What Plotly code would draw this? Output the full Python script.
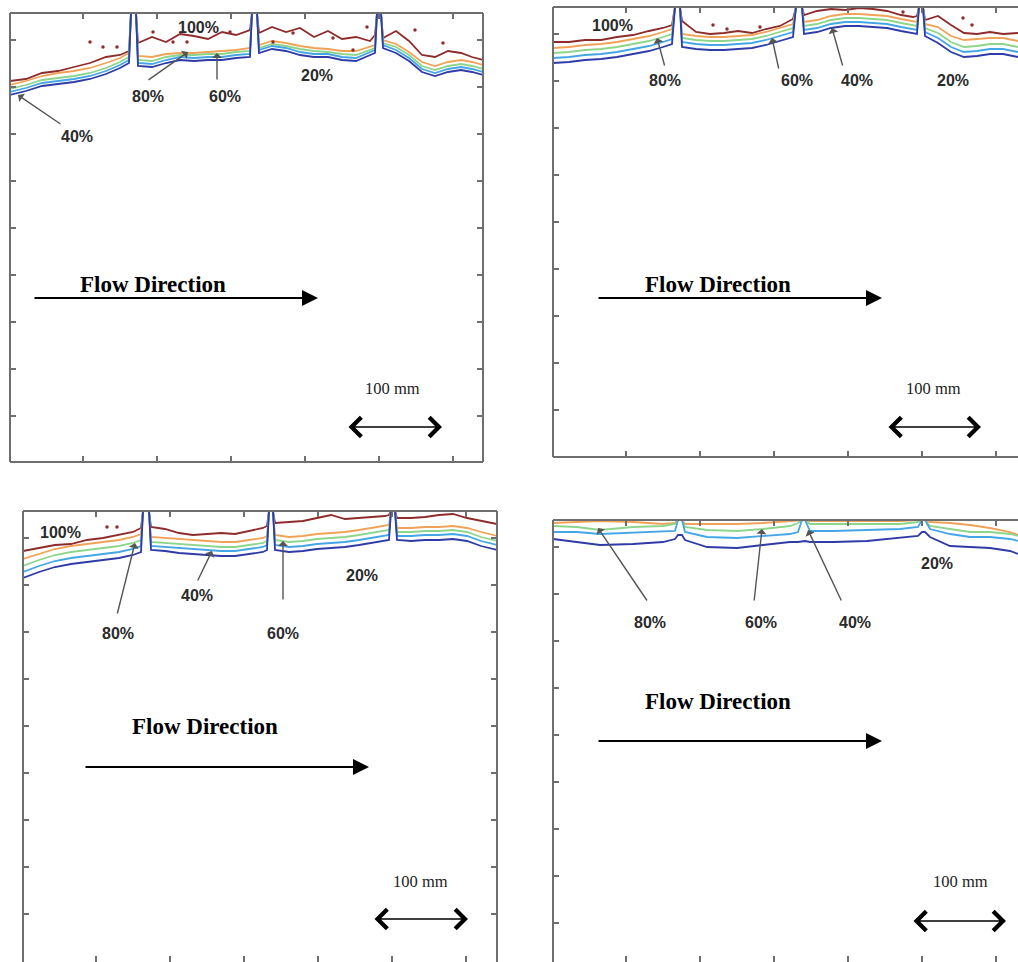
import plotly.graph_objects as go

# ---------------- data (x: distance from panel's left edge, d: depth below panel top) ----------------
LEVEL_NAMES = ["100%", "80%", "60%", "40%", "20%"]

P1_X = [0, 16, 32, 48, 64, 80, 96, 110, 119, 121, 126, 128, 142, 156, 170, 184, 198, 212, 226, 240, 242, 247,
        249, 262, 276, 290, 304, 318, 332, 346, 360, 365, 367, 371, 373, 386, 399, 412, 425, 438, 451, 462, 473]
P1_L20 = [82, 78, 73, 71, 69, 66, 61, 55, 50, 0, 0, 53, 54, 50, 47, 48, 47, 47, 45, 44, 0, 0,
          40, 36, 38, 42, 44, 44, 47, 48, 42, 40, 0, 0, 35, 40, 48, 59, 63, 59, 57, 59, 62]
P1_L40 = [79, 75, 70, 68, 66, 63, 58, 52, 47, 0, 0, 50, 51, 47, 44, 45, 44, 44, 42, 41, 0, 0,
          37, 33, 35, 39, 41, 41, 44, 45, 39, 37, 0, 0, 32, 37, 45, 56, 60, 56, 54, 56, 59]
P1_L60 = [76, 72, 67, 65, 63, 60, 55, 49, 44, 0, 0, 47, 48, 44, 42, 42, 41, 41, 39, 38, 0, 0,
          35, 31, 33, 36, 38, 39, 41, 42, 37, 35, 0, 0, 30, 34, 42, 53, 57, 53, 51, 53, 56]
P1_L80 = [72, 68, 63, 60, 58, 55, 50, 45, 40, 0, 0, 43, 44, 41, 40, 40, 39, 38, 37, 35, 0, 0,
          32, 28, 30, 33, 35, 36, 38, 38, 34, 32, 0, 0, 27, 31, 39, 49, 53, 49, 47, 49, 52]
P1_L100 = [68, 66, 60, 58, 54, 50, 44, 42, 38, 0, 0, 30, 24, 29, 21, 23, 26, 19, 22, 17, 0, 0,
           20, 14, 19, 15, 24, 18, 26, 24, 28, 22, 0, 0, 25, 18, 28, 42, 44, 38, 40, 44, 47]
P1_DOT_X = [80, 93, 107, 143, 163, 177, 220, 263, 283, 323, 343, 357, 405, 433]
P1_DOT_D = [29, 34, 34, 19, 29, 29, 19, 29, 20, 25, 37, 14, 17, 30]

P2_X = [0, 16, 32, 48, 64, 80, 96, 110, 119, 122, 127, 129, 143, 157, 171, 185, 199, 213, 227, 240, 243, 249,
        251, 264, 278, 292, 306, 320, 334, 348, 360, 364, 366, 370, 372, 385, 398, 411, 424, 437, 450, 465]
P2_L20 = [56, 55, 53, 52, 50, 47, 44, 40, 37, 0, 0, 40, 42, 43, 43, 42, 41, 38, 34, 30, 0, 0,
          27, 25, 21, 19, 19, 20, 21, 24, 26, 27, 0, 0, 29, 36, 45, 50, 49, 47, 47, 50]
P2_L40 = [51, 50, 48, 47, 45, 42, 39, 35, 32, 0, 0, 35, 37, 38, 38, 37, 36, 33, 29, 25, 0, 0,
          23, 21, 17, 15, 15, 16, 17, 20, 22, 23, 0, 0, 25, 31, 40, 45, 44, 42, 42, 45]
P2_L60 = [46, 45, 43, 42, 40, 37, 34, 30, 27, 0, 0, 31, 33, 34, 34, 33, 32, 29, 25, 21, 0, 0,
          19, 17, 13, 11, 11, 12, 13, 16, 18, 19, 0, 0, 21, 26, 35, 40, 39, 37, 37, 40]
P2_L80 = [41, 40, 38, 37, 35, 32, 29, 25, 22, 0, 0, 27, 29, 30, 30, 29, 28, 25, 21, 17, 0, 0,
          15, 13, 9, 7, 7, 8, 9, 12, 14, 15, 0, 0, 17, 20, 29, 33, 32, 31, 31, 34]
P2_L100 = [35, 35, 33, 33, 30, 28, 24, 21, 18, 0, 0, 14, 25, 27, 26, 24, 26, 22, 19, 12, 0, 0,
           8, 4, 2, 3, 1, 2, 4, 8, 10, 9, 0, 0, 13, 9, 18, 26, 27, 25, 27, 26]
P2_DOT_X = [160, 174, 207, 350, 410, 419]
P2_DOT_D = [18, 22, 20, 5, 11, 18]

P3_X = [0, 16, 32, 48, 64, 80, 96, 110, 118, 120, 126, 128, 142, 156, 170, 184, 198, 212, 226, 240, 244, 246, 250,
        252, 266, 280, 294, 308, 322, 336, 350, 362, 366, 368, 372, 374, 388, 402, 416, 430, 444, 458, 474]
P3_L20 = [67, 61, 56, 53, 51, 49, 47, 44, 41, 0, 0, 39, 40, 42, 43, 44, 45, 45, 43, 41, 39, 0, 0,
          39, 41, 40, 38, 37, 36, 34, 32, 30, 29, 0, 0, 29, 30, 29, 29, 28, 30, 35, 39]
P3_L40 = [61, 55, 50, 47, 45, 43, 41, 38, 35, 0, 0, 35, 36, 37, 38, 39, 40, 40, 38, 36, 34, 0, 0,
          34, 36, 35, 33, 32, 31, 29, 27, 25, 24, 0, 0, 25, 25, 24, 24, 23, 25, 30, 34]
P3_L60 = [55, 49, 44, 41, 39, 37, 35, 32, 29, 0, 0, 31, 32, 33, 34, 35, 36, 36, 34, 32, 30, 0, 0,
          29, 31, 30, 28, 27, 26, 24, 22, 20, 19, 0, 0, 21, 21, 20, 20, 19, 21, 26, 30]
P3_L80 = [48, 43, 38, 35, 33, 31, 29, 26, 23, 0, 0, 26, 27, 28, 29, 30, 31, 31, 29, 27, 25, 0, 0,
          24, 26, 25, 23, 22, 21, 19, 17, 15, 14, 0, 0, 17, 17, 16, 16, 15, 17, 21, 25]
P3_L100 = [40, 37, 34, 33, 29, 27, 24, 21, 17, 0, 0, 16, 18, 22, 24, 23, 22, 23, 20, 17, 15, 0, 0,
           12, 11, 10, 7, 4, 8, 7, 6, 5, 4, 0, 0, 7, 7, 6, 4, 3, 7, 10, 13]
P3_DOT_X = [84, 94]
P3_DOT_D = [16, 16]

P4_X = [0, 24, 47, 80, 110, 122, 125, 129, 132, 154, 184, 210, 237, 245, 249, 252,
        257, 280, 314, 347, 365, 369, 372, 377, 397, 417, 437, 457, 465]
P4_L20 = [19, 22, 25, 24, 22, 19, 15, 15, 20, 27, 28, 25, 22, 22, 21, 21,
          22, 22, 21, 18, 16, 12, 12, 17, 26, 27, 28, 31, 34]
P4_L40 = [12, 12, 14, 13, 12, 11, 0, 0, 12, 17, 18, 16, 14, 12, 0, 0,
          11, 11, 10, 9, 7, 0, 0, 9, 14, 17, 17, 19, 21]
P4_L60 = [6, 7, 10, 7, 6, 4, 0, 0, 7, 10, 11, 9, 6, 3, 0, 0,
          4, 4, 4, 4, 2, 0, 0, 6, 9, 12, 12, 14, 16]
P4_L80 = [3, 2, 1, 2, 4, 3, 0, 0, 4, 4, 4, 3, 1, 0, 0, 0,
          1, 1, 1, 1, 0, 0, 0, 2, 3, 5, 8, 12, 15]

X_TICKS = [73, 147, 221, 295, 369, 443]
Y_TICKS = [27, 74, 121, 168, 215, 262, 309, 356, 403]

# label text, label position (x, d), arrow tail (x, d), arrow head (x, d)
P1_LABELS = [("100%", 188, 15, None, None, None, None),
             ("80%", 138, 84, 137, 68, 178, 39),
             ("60%", 215, 84, 207, 68, 207, 40),
             ("20%", 307, 63, None, None, None, None),
             ("40%", 67, 124, 52, 112, 8, 82)]
P2_LABELS = [("100%", 59, 18, None, None, None, None),
             ("80%", 112, 73, 112, 60, 104, 31),
             ("60%", 244, 73, 226, 63, 219, 31),
             ("40%", 304, 73, 290, 60, 279, 21),
             ("20%", 400, 73, None, None, None, None)]
P3_LABELS = [("100%", 37, 21, None, None, None, None),
             ("80%", 95, 122, 94, 104, 112, 32),
             ("40%", 174, 84, 174, 71, 189, 40),
             ("60%", 260, 122, 260, 90, 260, 30),
             ("20%", 339, 64, None, None, None, None)]
P4_LABELS = [("80%", 97, 102, 95, 82, 45, 8),
             ("60%", 208, 102, 201, 82, 209, 9),
             ("40%", 302, 102, 289, 82, 255, 10),
             ("20%", 384, 43, None, None, None, None)]

# ---------------- styling / geometry ----------------
W_PX, H_PX = 1018, 962
COLORS = {"100%": "#8e2b2b", "80%": "#f0a358", "60%": "#8ed58c", "40%": "#45a6e6", "20%": "#2f3ba6"}
FRAME = "#6e6e6e"
SANS = "Liberation Sans, Arial, sans-serif"
SERIF = "Liberation Serif, Times New Roman, serif"

PANELS = [
    dict(l=10, t=13, r=483, b=462, sides="tblr", mirror_y=True),
    dict(l=553, t=7, r=1018, b=457, sides="tbl", mirror_y=False),
    dict(l=23, t=511, r=497, b=962, sides="tlr", mirror_y=True),
    dict(l=553, t=520, r=1018, b=962, sides="tl", mirror_y=False),
]

panel_lines = [
    (P1_X, {"100%": P1_L100, "80%": P1_L80, "60%": P1_L60, "40%": P1_L40, "20%": P1_L20}, P1_DOT_X, P1_DOT_D),
    (P2_X, {"100%": P2_L100, "80%": P2_L80, "60%": P2_L60, "40%": P2_L40, "20%": P2_L20}, P2_DOT_X, P2_DOT_D),
    (P3_X, {"100%": P3_L100, "80%": P3_L80, "60%": P3_L60, "40%": P3_L40, "20%": P3_L20}, P3_DOT_X, P3_DOT_D),
    (P4_X, {"80%": P4_L80, "60%": P4_L60, "40%": P4_L40, "20%": P4_L20}, [], []),
]
panel_labels = [P1_LABELS, P2_LABELS, P3_LABELS, P4_LABELS]

DECOR = [
    dict(ft=(143, 271), fa=(23, 308, 285), st=(382, 375), sa=(337, 432, 414)),
    dict(ft=(165, 277), fa=(44, 329, 291), st=(380, 381), sa=(334, 428, 420)),
    dict(ft=(182, 215), fa=(61, 346, 256), st=(397, 370), sa=(350, 445, 408)),
    dict(ft=(165, 181), fa=(44, 329, 221), st=(407, 361), sa=(359, 453, 401)),
]

fig = go.Figure()
layout = dict(width=W_PX, height=H_PX, margin=dict(l=0, r=0, t=0, b=0),
              paper_bgcolor="white", plot_bgcolor="white", showlegend=False)
annotations, shapes = [], []

for i, (p, (xs, lines, dx, dd), labels, dec) in enumerate(zip(PANELS, panel_lines, panel_labels, DECOR)):
    n = "" if i == 0 else str(i + 1)
    xa, ya = "x" + n, "y" + n
    width = p["r"] - p["l"]
    height = p["b"] - p["t"]
    layout["xaxis" + n] = dict(domain=[p["l"] / W_PX, p["r"] / W_PX], range=[0, width], anchor=ya,
                               tickvals=X_TICKS, ticks="inside", ticklen=6, tickwidth=1.5, tickcolor=FRAME,
                               showticklabels=False, showgrid=False, zeroline=False, showline=False,
                               mirror="ticks", fixedrange=True)
    layout["yaxis" + n] = dict(domain=[1 - p["b"] / H_PX, 1 - p["t"] / H_PX], range=[height, 0], anchor=xa,
                               tickvals=Y_TICKS, ticks="inside", ticklen=6, tickwidth=1.5, tickcolor=FRAME,
                               showticklabels=False, showgrid=False, zeroline=False, showline=False,
                               mirror="ticks" if p["mirror_y"] else False, fixedrange=True)
    for name in LEVEL_NAMES:
        if name in lines:
            fig.add_trace(go.Scatter(x=xs, y=lines[name], mode="lines", name=name, xaxis=xa, yaxis=ya,
                                     line=dict(color=COLORS[name], width=1.8), hoverinfo="skip"))
    if dx:
        fig.add_trace(go.Scatter(x=dx, y=dd, mode="markers", xaxis=xa, yaxis=ya, hoverinfo="skip",
                                 marker=dict(symbol="circle", size=3.5, color=COLORS["100%"])))
    sides = {"t": (0, 1, 1, 1), "b": (0, 0, 1, 0), "l": (0, 0, 0, 1), "r": (1, 0, 1, 1)}
    for s in p["sides"]:
        x0, y0, x1, y1 = sides[s]
        shapes.append(dict(type="line", xref=xa + " domain", yref=ya + " domain", x0=x0, y0=y0, x1=x1, y1=y1,
                           line=dict(color=FRAME, width=2)))
    for (txt, lx, ly, tx, ty, hx, hy) in labels:
        annotations.append(dict(x=lx, y=ly, xref=xa, yref=ya, text=txt, showarrow=False,
                                font=dict(family=SANS, size=16, color="#2b2b2b", weight="bold")))
        if tx is not None:
            annotations.append(dict(x=hx, y=hy, ax=tx, ay=ty, xref=xa, yref=ya, axref=xa, ayref=ya, text="",
                                    showarrow=True, arrowhead=1, arrowsize=1.2, arrowwidth=1.4,
                                    arrowcolor="#555555"))
    annotations.append(dict(x=dec["ft"][0], y=dec["ft"][1], xref=xa, yref=ya, text="Flow Direction",
                            showarrow=False, font=dict(family=SERIF, size=23, color="black", weight="bold")))
    x0, x1, yy = dec["fa"]
    annotations.append(dict(x=x1, y=yy, ax=x0, ay=yy, xref=xa, yref=ya, axref=xa, ayref=ya, text="",
                            showarrow=True, arrowhead=2, arrowsize=1.6, arrowwidth=2, arrowcolor="black"))
    annotations.append(dict(x=dec["st"][0], y=dec["st"][1], xref=xa, yref=ya, text="100 mm",
                            showarrow=False, font=dict(family=SERIF, size=16.5, color="#222222")))
    x0, x1, yy = dec["sa"]
    annotations.append(dict(x=x1, y=yy, ax=x0, ay=yy, xref=xa, yref=ya, axref=xa, ayref=ya, text="",
                            showarrow=True, arrowhead=4, arrowside="end+start", arrowsize=2.9, arrowwidth=1.3,
                            arrowcolor="black"))

layout["annotations"] = annotations
layout["shapes"] = shapes
fig.update_layout(**layout)
fig.write_html("out.html")
